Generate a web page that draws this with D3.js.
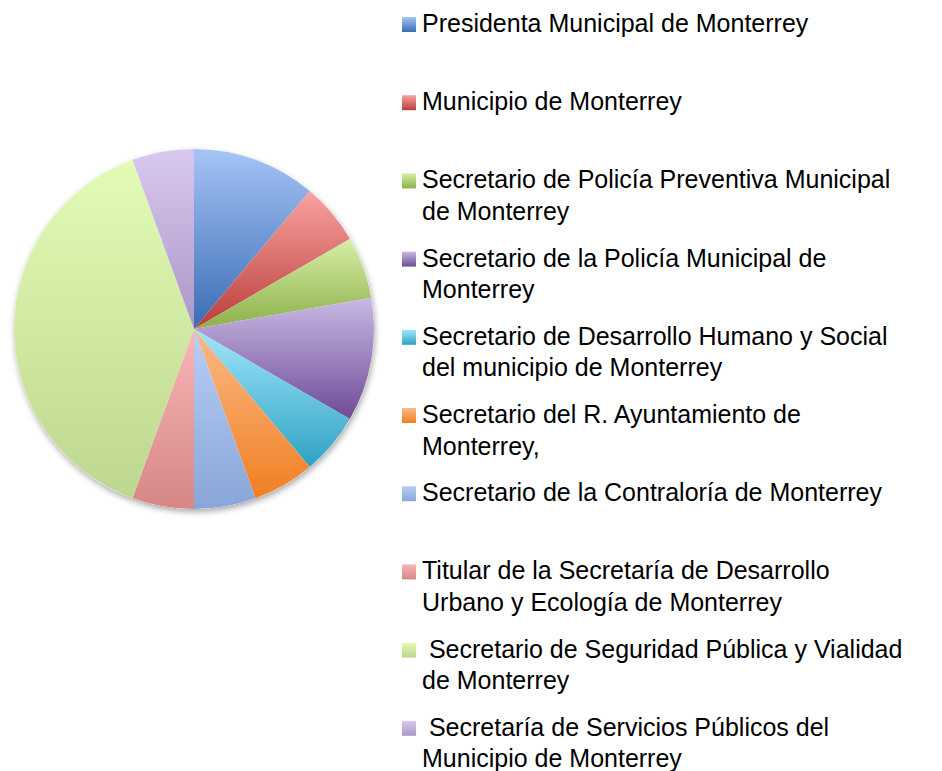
<!DOCTYPE html>
<html>
<head>
<meta charset="utf-8">
<script src="https://cdn.jsdelivr.net/npm/d3@7"></script>
<style>
  body { margin: 0; background: #fff; }
  svg { display: block; }
</style>
</head>
<body>
<script>
    // Data
    const categories = [
        'Presidenta Municipal de Monterrey',
        'Municipio de Monterrey',
        'Secretario de Policía Preventiva Municipal de Monterrey',
        'Secretario de la Policía Municipal de Monterrey',
        'Secretario de Desarrollo Humano y Social del municipio de Monterrey',
        'Secretario del R. Ayuntamiento de Monterrey,',
        'Secretario de la Contraloría de Monterrey',
        'Titular de la Secretaría de Desarrollo Urbano y Ecología de Monterrey',
        ' Secretario de Seguridad Pública y Vialidad de Monterrey',
        ' Secretaría de Servicios Públicos del Municipio de Monterrey'
    ];
    // legend text split into lines as in the original
    const legendLines = [
        ['Presidenta Municipal de Monterrey'],
        ['Municipio de Monterrey'],
        ['Secretario de Policía Preventiva Municipal', 'de Monterrey'],
        ['Secretario de la Policía Municipal de', 'Monterrey'],
        ['Secretario de Desarrollo Humano y Social', 'del municipio de Monterrey'],
        ['Secretario del R. Ayuntamiento de', 'Monterrey,'],
        ['Secretario de la Contraloría de Monterrey'],
        ['Titular de la Secretaría de Desarrollo', 'Urbano y Ecología de Monterrey'],
        ['\u00a0Secretario de Seguridad Pública y Vialidad', 'de Monterrey'],
        ['\u00a0Secretaría de Servicios Públicos del', 'Municipio de Monterrey']
    ];
    const values = [2, 1, 1, 2, 1, 1, 1, 1, 7, 1];
    const topColors = ['#a6c4f6', '#f9a3a0', '#d6eea6', '#c8b9e4', '#a0e6fc', '#fbba8a', '#b9cef6', '#f9b6b8', '#e2fcb7', '#d9c8f0'];
    const bottomColors = ['#3a6cb4', '#b83d3a', '#8cb049', '#6e4b97', '#2ea2c2', '#f07f22', '#88a6d7', '#d68785', '#bdd790', '#ab97c7'];

    const width = 942, height = 771;
    const cx = 194, cy = 329, radius = 180;

    const svg = d3.select('body')
        .append('svg')
        .attr('width', width)
        .attr('height', height);

    const defs = svg.append('defs');

    // vertical gradient per category (light on top, dark at bottom)
    categories.forEach((c, i) => {
        const grad = defs.append('linearGradient')
            .attr('id', 'grad' + i)
            .attr('x1', 0).attr('y1', 0)
            .attr('x2', 0).attr('y2', 1);
        grad.append('stop').attr('offset', '0%').attr('stop-color', topColors[i]);
        grad.append('stop').attr('offset', '100%').attr('stop-color', bottomColors[i]);
    });

    // soft shadow under the pie
    const filter = defs.append('filter')
        .attr('id', 'shadow')
        .attr('x', '-10%').attr('y', '-10%')
        .attr('width', '120%').attr('height', '120%');
    filter.append('feGaussianBlur').attr('in', 'SourceAlpha').attr('stdDeviation', 3).attr('result', 'blur');
    filter.append('feOffset').attr('in', 'blur').attr('dx', 1).attr('dy', 3).attr('result', 'off');
    filter.append('feComponentTransfer').attr('in', 'off').attr('result', 'shade')
        .append('feFuncA').attr('type', 'linear').attr('slope', 0.35);
    const merge = filter.append('feMerge');
    merge.append('feMergeNode').attr('in', 'shade');
    merge.append('feMergeNode').attr('in', 'SourceGraphic');

    const pie = d3.pie().sort(null).value(d => d);
    const arc = d3.arc().innerRadius(0).outerRadius(radius);

    const g = svg.append('g')
        .attr('transform', `translate(${cx},${cy})`);

    g.append('circle')
        .attr('r', radius)
        .attr('fill', '#fff')
        .attr('filter', 'url(#shadow)');

    g.selectAll('path')
        .data(pie(values))
        .enter()
        .append('path')
        .attr('d', arc)
        .attr('fill', (d, i) => `url(#grad${i})`);

    // Legend (y = baseline of first line)
    const legendX = 402, legendY0 = 32, legendStep = 78.2, lineH = 31.5;
    const legend = svg.append('g').attr('class', 'legend');

    const items = legend.selectAll('g')
        .data(categories)
        .enter()
        .append('g')
        .attr('transform', (d, i) => `translate(${legendX},${legendY0 + i * legendStep})`);

    items.append('rect')
        .attr('x', 0)
        .attr('y', -15)
        .attr('width', 14)
        .attr('height', 15)
        .attr('fill', (d, i) => `url(#grad${i})`);

    items.append('text')
        .attr('x', 20)
        .attr('y', 0)
        .style('font-family', '"Liberation Sans", Arial, sans-serif')
        .style('font-size', '25px')
        .style('fill', '#000')
        .selectAll('tspan')
        .data((d, i) => legendLines[i])
        .enter()
        .append('tspan')
        .attr('x', 20)
        .attr('dy', (d, j) => j === 0 ? 0 : lineH)
        .text(d => d);
</script>
</body>
</html>
